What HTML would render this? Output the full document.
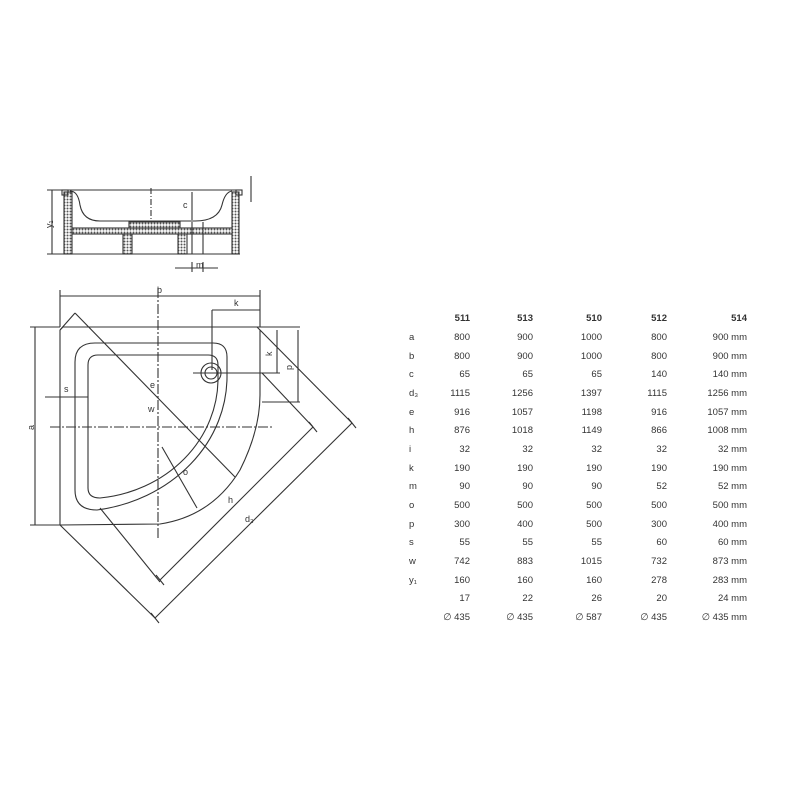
<!DOCTYPE html>
<html><head><meta charset="utf-8"><style>
html,body{margin:0;padding:0;background:#fff;}
svg{display:block;}
text{font-family:"Liberation Sans",sans-serif;fill:#333;}
</style></head><body>
<svg width="800" height="800" viewBox="0 0 800 800" xmlns="http://www.w3.org/2000/svg">
<defs>
<pattern id="h" width="3" height="3" patternUnits="userSpaceOnUse">
<rect width="3" height="3" fill="#fff"/><circle cx="1.5" cy="1.5" r="1" fill="#555"/>
</pattern>
</defs>
<g stroke="#333" stroke-width="1.1" fill="none">
<!-- section -->
<line x1="47" y1="190" x2="240" y2="190"/>
<line x1="47" y1="254" x2="240" y2="254"/>
<rect x="64" y="192" width="8" height="62" fill="url(#h)"/>
<rect x="232" y="192" width="7" height="62" fill="url(#h)"/>
<rect x="72" y="228" width="160" height="6" fill="url(#h)"/>
<rect x="123" y="234" width="9" height="20" fill="url(#h)"/>
<rect x="178" y="234" width="9" height="20" fill="url(#h)"/>
<rect x="129" y="222" width="51" height="6" fill="url(#h)"/>
<rect x="62" y="190" width="6" height="5"/>
<rect x="236" y="190" width="6" height="5"/>
<path d="M70,191 Q78,191 80,205 Q83,221 100,221 L195,221 Q218,221 222,205 Q225,192 232,191"/>
<line x1="192" y1="222" x2="192" y2="254"/><line x1="203" y1="222" x2="203" y2="254"/>
<line x1="151" y1="188" x2="151" y2="222" stroke-dasharray="6,2,1,2"/>
<line x1="52" y1="190" x2="52" y2="254"/>
<line x1="192" y1="192" x2="192" y2="220"/>
<line x1="251" y1="176" x2="251" y2="202"/>
<line x1="175" y1="268" x2="218" y2="268"/><line x1="192" y1="262" x2="192" y2="272"/><line x1="203" y1="262" x2="203" y2="272"/>
<!-- plan -->
<path d="M60,330 L63,327 L257,327 L260,330 L260,395"/>
<line x1="60" y1="330" x2="60" y2="525"/>
<line x1="60" y1="525" x2="155" y2="618"/>
<line x1="155" y1="618" x2="352" y2="423"/>
<line x1="260" y1="330" x2="352" y2="423"/>
<line x1="75" y1="313" x2="60" y2="330"/>
<line x1="75" y1="313" x2="235" y2="477"/>
<line x1="313" y1="427" x2="160" y2="580"/>
<line x1="100" y1="508" x2="160" y2="582"/>
<line x1="262" y1="373" x2="313" y2="427"/>
<line x1="348" y1="418" x2="356" y2="428"/><line x1="151" y1="613" x2="159" y2="623"/>
<line x1="309" y1="422" x2="317" y2="432"/><line x1="156" y1="575" x2="164" y2="585"/>
<path d="M60,525 L160,524 Q212,516 240,470 Q260,430 260,395"/>
<path d="M75,362 Q75,343 95,343 L213,343 Q227,343 227,357 L227,375 A152,135 0 0 1 97,510 Q75,510 75,490 Z"/>
<path d="M88,365 Q88,355 98,355 L208,355 Q218,355 218,365 L218,378 A132,120 0 0 1 100,498 Q88,498 88,488 Z"/>
<circle cx="211" cy="373" r="10"/><circle cx="211" cy="373" r="6"/>
<line x1="158" y1="288" x2="158" y2="540" stroke-dasharray="10,2,2,2"/>
<line x1="50" y1="427" x2="273" y2="427" stroke-dasharray="10,2,2,2"/>
<line x1="193" y1="373" x2="280" y2="373"/>
<line x1="162" y1="447" x2="197" y2="508"/>
<!-- dims -->
<line x1="60" y1="296" x2="260" y2="296"/><line x1="60" y1="290" x2="60" y2="327"/><line x1="260" y1="290" x2="260" y2="327"/>
<line x1="212" y1="310" x2="260" y2="310"/><line x1="212" y1="310" x2="212" y2="370"/>
<line x1="257" y1="327" x2="300" y2="327"/><line x1="262" y1="402" x2="300" y2="402"/>
<line x1="277" y1="330" x2="277" y2="373"/><line x1="298" y1="330" x2="298" y2="402"/>
<line x1="35" y1="327" x2="35" y2="525"/><line x1="30" y1="327" x2="60" y2="327"/><line x1="30" y1="525" x2="60" y2="525"/>
<line x1="45" y1="397" x2="88" y2="397"/>
</g>
<g font-size="9">
<text x="157" y="293">b</text><text x="234" y="306">k</text>
<text x="270" y="354" transform="rotate(-90 272 354)">k</text>
<text x="290" y="368" transform="rotate(-90 292 368)">p</text>
<text x="28" y="430" transform="rotate(-90 31 427)">a</text>
<text x="64" y="392">s</text>
<text x="150" y="388">e</text><text x="148" y="412">w</text>
<text x="183" y="475">o</text><text x="228" y="503">h</text><text x="245" y="522">d₃</text>
<text x="44" y="230" transform="rotate(-90 47 225)">y₁</text>
<text x="183" y="208">c</text><text x="196" y="268">m</text>
</g>
<g font-size="9.5" text-anchor="end" font-weight="bold">
<text x="470" y="321">511</text><text x="533" y="321">513</text><text x="602" y="321">510</text><text x="667" y="321">512</text><text x="747" y="321">514</text>
</g>
<g font-size="9.5">
<text x="409" y="340">a</text><text x="409" y="359">b</text><text x="409" y="377">c</text><text x="409" y="396">d₃</text><text x="409" y="415">e</text><text x="409" y="433">h</text><text x="409" y="452">i</text><text x="409" y="471">k</text><text x="409" y="489">m</text><text x="409" y="508">o</text><text x="409" y="527">p</text><text x="409" y="545">s</text><text x="409" y="564">w</text><text x="409" y="583">y₁</text>
</g>
<g font-size="9.5" text-anchor="end">
<text x="470" y="340">800</text><text x="533" y="340">900</text><text x="602" y="340">1000</text><text x="667" y="340">800</text><text x="747" y="340">900 mm</text>
<text x="470" y="359">800</text><text x="533" y="359">900</text><text x="602" y="359">1000</text><text x="667" y="359">800</text><text x="747" y="359">900 mm</text>
<text x="470" y="377">65</text><text x="533" y="377">65</text><text x="602" y="377">65</text><text x="667" y="377">140</text><text x="747" y="377">140 mm</text>
<text x="470" y="396">1115</text><text x="533" y="396">1256</text><text x="602" y="396">1397</text><text x="667" y="396">1115</text><text x="747" y="396">1256 mm</text>
<text x="470" y="415">916</text><text x="533" y="415">1057</text><text x="602" y="415">1198</text><text x="667" y="415">916</text><text x="747" y="415">1057 mm</text>
<text x="470" y="433">876</text><text x="533" y="433">1018</text><text x="602" y="433">1149</text><text x="667" y="433">866</text><text x="747" y="433">1008 mm</text>
<text x="470" y="452">32</text><text x="533" y="452">32</text><text x="602" y="452">32</text><text x="667" y="452">32</text><text x="747" y="452">32 mm</text>
<text x="470" y="471">190</text><text x="533" y="471">190</text><text x="602" y="471">190</text><text x="667" y="471">190</text><text x="747" y="471">190 mm</text>
<text x="470" y="489">90</text><text x="533" y="489">90</text><text x="602" y="489">90</text><text x="667" y="489">52</text><text x="747" y="489">52 mm</text>
<text x="470" y="508">500</text><text x="533" y="508">500</text><text x="602" y="508">500</text><text x="667" y="508">500</text><text x="747" y="508">500 mm</text>
<text x="470" y="527">300</text><text x="533" y="527">400</text><text x="602" y="527">500</text><text x="667" y="527">300</text><text x="747" y="527">400 mm</text>
<text x="470" y="545">55</text><text x="533" y="545">55</text><text x="602" y="545">55</text><text x="667" y="545">60</text><text x="747" y="545">60 mm</text>
<text x="470" y="564">742</text><text x="533" y="564">883</text><text x="602" y="564">1015</text><text x="667" y="564">732</text><text x="747" y="564">873 mm</text>
<text x="470" y="583">160</text><text x="533" y="583">160</text><text x="602" y="583">160</text><text x="667" y="583">278</text><text x="747" y="583">283 mm</text>
<text x="470" y="601">17</text><text x="533" y="601">22</text><text x="602" y="601">26</text><text x="667" y="601">20</text><text x="747" y="601">24 mm</text>
<text x="470" y="620">∅ 435</text><text x="533" y="620">∅ 435</text><text x="602" y="620">∅ 587</text><text x="667" y="620">∅ 435</text><text x="747" y="620">∅ 435 mm</text>
</g>
</svg>
</body></html>
